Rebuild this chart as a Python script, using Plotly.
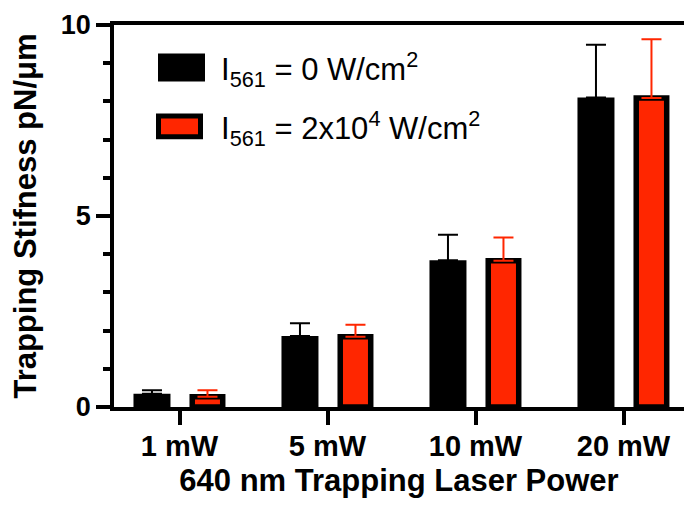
import plotly.graph_objects as go

# ---- data ----
categories = ["1 mW", "5 mW", "10 mW", "20 mW"]
dark_values = [0.35, 1.86, 3.84, 8.10]
dark_errors = [0.09, 0.33, 0.67, 1.38]
red_values = [0.27, 1.84, 3.83, 8.09]
red_errors = [0.17, 0.31, 0.61, 1.54]
legend_labels = ["I<sub>561</sub> = 0 W/cm<sup>2</sup>",
                 "I<sub>561</sub> = 2x10<sup>4</sup> W/cm<sup>2</sup>"]
y_tick_values = [0, 5, 10]

RED = "#ff2600"
FONT = "Liberation Sans, Arial, Helvetica, sans-serif"

W, H = 684, 508
ML, MR, MT, MB = 114, 0, 24.5, 101
PW, PH = W - ML - MR, H - MT - MB


def px(xp):
    return (xp - ML) / PW


def py(yp):
    return (H - MB - yp) / PH


fig = go.Figure()
fig.add_trace(go.Bar(
    x=categories, y=dark_values, name=legend_labels[0],
    width=0.25, offset=-0.311,
    marker=dict(color="black", line=dict(width=0)),
    error_y=dict(type="data", array=dark_errors, arrayminus=[0] * len(dark_errors),
                 symmetric=False, color="black", thickness=2, width=10),
))
fig.add_trace(go.Bar(
    x=categories, y=red_values, name=legend_labels[1],
    width=0.206, offset=0.086,
    marker=dict(color=RED, line=dict(width=5.5, color="black")),
    error_y=dict(type="data", array=red_errors, arrayminus=[0] * len(red_errors),
                 symmetric=False, color=RED, thickness=2, width=10),
))

fig.update_layout(
    width=W, height=H,
    margin=dict(l=ML, r=MR, t=MT, b=MB, pad=0, autoexpand=False),
    barmode="overlay",
    showlegend=False,
    plot_bgcolor="white", paper_bgcolor="white",
    font=dict(family=FONT, color="black"),
)

fig.update_xaxes(
    type="category", range=[-0.4426, 3.4088], automargin=False,
    showline=True, linecolor="black", linewidth=3.5, mirror=True,
    ticks="outside", ticklen=14, tickwidth=3.5, tickcolor="black",
    ticklabelstandoff=-4,
    showgrid=False, zeroline=False,
    tickfont=dict(family=FONT, size=29, weight="bold", color="black"),
    title=dict(text="640 nm Trapping Laser Power",
               font=dict(family=FONT, size=31, weight="bold", color="black"),
               standoff=10),
)
fig.update_yaxes(
    range=[0, 10], tickvals=y_tick_values, automargin=False,
    showline=True, linecolor="black", linewidth=3.5,
    ticks="outside", ticklen=14, tickwidth=3.5, tickcolor="black",
    minor=dict(dtick=1, ticks="outside", ticklen=7, tickwidth=3.5, tickcolor="black"),
    showgrid=False, zeroline=False,
    tickfont=dict(family=FONT, size=27, weight="bold", color="black"),
    title=dict(text="Trapping Stifness pN/\u03bcm",
               font=dict(family=FONT, size=31, weight="bold", color="black"),
               standoff=16),
)

# legend drawn as boxes + labels
fig.add_shape(type="rect", xref="paper", yref="paper",
              x0=px(158), x1=px(205), y0=py(81), y1=py(53),
              fillcolor="black", line=dict(width=0))
fig.add_shape(type="rect", xref="paper", yref="paper",
              x0=px(158.5), x1=px(200.5), y0=py(136.5), y1=py(115.5),
              fillcolor=RED, line=dict(width=5, color="black"))
fig.add_annotation(xref="paper", yref="paper", x=px(219), y=py(69),
                   xanchor="left", yanchor="middle", showarrow=False,
                   text=legend_labels[0],
                   font=dict(family=FONT, size=31, color="black"))
fig.add_annotation(xref="paper", yref="paper", x=px(219), y=py(128),
                   xanchor="left", yanchor="middle", showarrow=False,
                   text=legend_labels[1],
                   font=dict(family=FONT, size=31, color="black"))

fig.write_html("out.html", config={"displayModeBar": False},
               post_script="document.body.style.margin='0px';")
